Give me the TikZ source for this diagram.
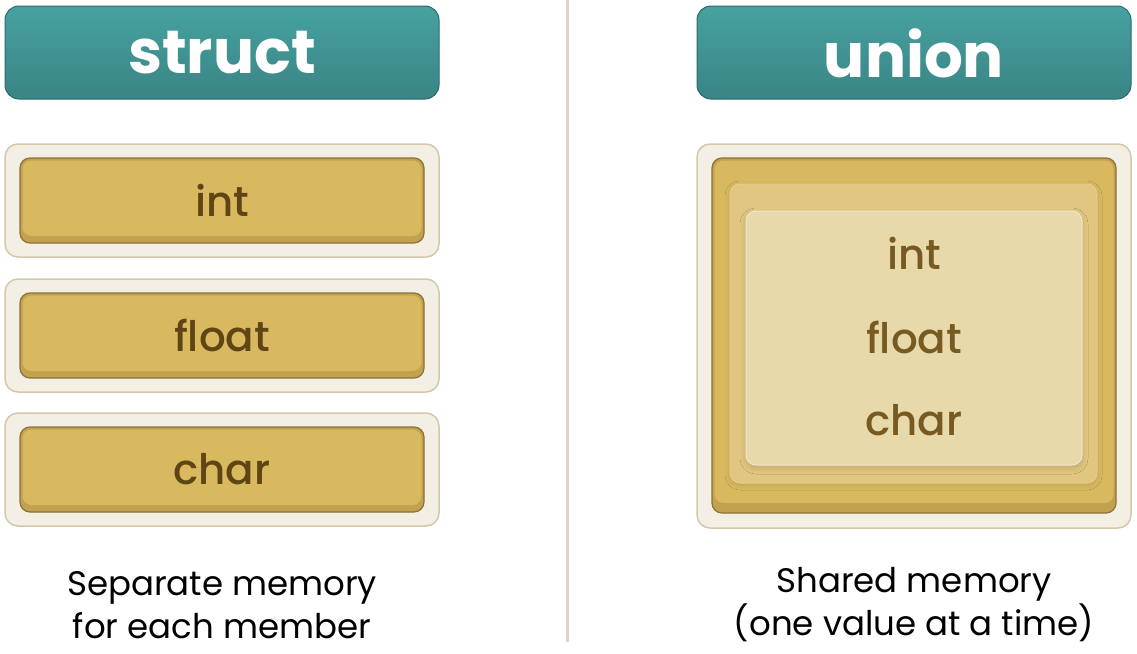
\documentclass[tikz,border=0pt]{standalone}
\usepackage{fontspec}
\setmainfont{Poppins}
\newfontfamily\popmed{Poppins Medium}
\usetikzlibrary{shadows.blur}
\definecolor{tealtop}{HTML}{46A2A0}
\definecolor{tealbot}{HTML}{3A8484}
\definecolor{tealedge}{HTML}{2C6B6B}
\definecolor{cream}{HTML}{F4EFE4}
\definecolor{creamedge}{HTML}{D5C7AA}
\definecolor{gold}{HTML}{D9B960}
\definecolor{golddark}{HTML}{C2A24F}
\definecolor{goldedge}{HTML}{8C7235}
\definecolor{goldmid}{HTML}{E0C680}
\definecolor{goldlight}{HTML}{E8D9AB}
\definecolor{goldlightedge}{HTML}{F1E7C9}
\definecolor{brown}{HTML}{5E4513}
\definecolor{brownlight}{HTML}{765A22}
\definecolor{divider}{HTML}{DDD5C5}
\tikzset{
  header/.style={draw=tealedge, line width=1pt, rounded corners=14pt, top color=tealtop, bottom color=tealbot},
  headtext/.style={text=white, font=\fontsize{61}{63}\selectfont\bfseries},
  outerbox/.style={draw=creamedge, line width=1.5pt, fill=cream, rounded corners=13pt},
  goldbox/.style={draw=goldedge, line width=1.2pt, fill=golddark, rounded corners=10pt},
  goldface/.style={fill=gold, rounded corners=9pt},
  midbox/.style={draw=goldmid!90!white, line width=1pt, fill=goldmid, rounded corners=10pt,
    blur shadow={shadow xshift=0pt, shadow yshift=-2pt, shadow blur steps=10, shadow blur radius=5pt, shadow opacity=12}},
  lightbox/.style={draw=goldlightedge, line width=1pt, fill=goldlight, rounded corners=10pt,
    blur shadow={shadow xshift=0pt, shadow yshift=-3pt, shadow blur steps=10, shadow blur radius=6pt, shadow opacity=14}},
  member/.style={text=brown, font=\fontsize{42}{44}\selectfont\popmed},
  umember/.style={text=brownlight, font=\fontsize{42}{44}\selectfont\popmed},
  caption/.style={text=black, font=\fontsize{34}{43}\selectfont, align=center}
}
\begin{document}
\begin{tikzpicture}[x=1pt,y=-1pt]
\useasboundingbox[fill=white] (0,0) rectangle (1137,653);
% divider
\draw[divider, line width=3pt] (567,0) -- (567,642);
% headers
\draw[header] (5,6) rectangle (439,99);
\node[headtext] (hs) at (222,53) {struct};
\draw[header] (697,6) rectangle (1131,99);
\node[headtext] (hu) at (914,53) {union};
% struct members
\foreach \y/\t/\n in {144/int/si,279/float/sf,413/char/sc}{
  \draw[outerbox] (5,\y) rectangle (439,\y+113);
  \draw[goldbox] (20,\y+14) rectangle (424,\y+99);
  \fill[goldface] (22.5,\y+16.5) rectangle (421.5,\y+92);
  \node[member] (\n) at (222,\y+56) {\t};
}
% union
\draw[outerbox] (697,144) rectangle (1131,528);
\draw[goldbox] (712,158) rectangle (1116,513);
\fill[goldface] (714.5,160.5) rectangle (1113.5,503);
\draw[midbox] (730,184) rectangle (1097,483);
\draw[lightbox] (746,211) rectangle (1082,465);
\node[umember] (ui) at (914,253) {int};
\node[umember] (uf) at (914,337) {float};
\node[umember] (uc) at (914,420) {char};
% captions
\node[caption] (cs) at (222,605) {Separate memory\\for each member};
\node[caption] (cu) at (914,605) {Shared memory\\(one value at a time)};
\end{tikzpicture}
\end{document}
